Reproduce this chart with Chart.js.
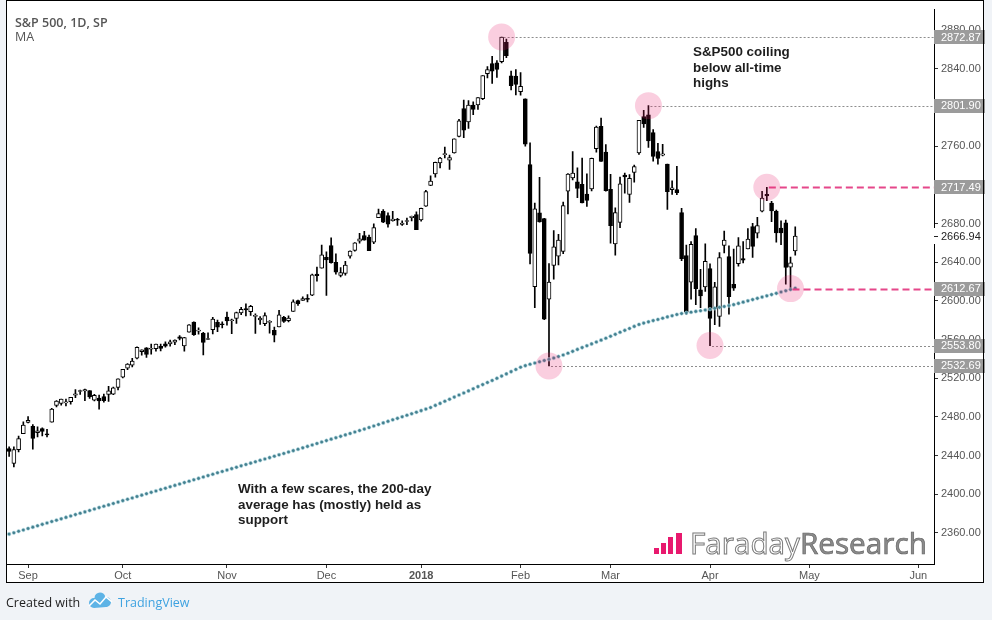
<!DOCTYPE html>
<html>
<head>
<meta charset="utf-8">
<script src="https://cdn.jsdelivr.net/npm/chart.js@4.4.1/dist/chart.umd.min.js"></script>
<style>
  html, body { margin: 0; padding: 0; background: #f0f3f7; }
  #wrap { width: 992px; height: 620px; }
</style>
</head>
<body>
<div id="wrap"><canvas id="chart" width="992" height="620"></canvas></div>
<script>
// trading days shown on the chart (S&P 500 daily)
const tradingDays = {
  '2017-08': [28,29,30,31],
  '2017-09': [1,5,6,7,8,11,12,13,14,15,18,19,20,21,22,25,26,27,28,29],
  '2017-10': [2,3,4,5,6,9,10,11,12,13,16,17,18,19,20,23,24,25,26,27,30,31],
  '2017-11': [1,2,3,6,7,8,9,10,13,14,15,16,17,20,21,22,24,27,28,29,30],
  '2017-12': [1,4,5,6,7,8,11,12,13,14,15,18,19,20,21,22,26,27,28,29],
  '2018-01': [2,3,4,5,8,9,10,11,12,16,17,18,19,22,23,24,25,26,29,30,31],
  '2018-02': [1,2,5,6,7,8,9,12,13,14,15,16,20,21,22,23,26,27,28],
  '2018-03': [1,2,5,6,7,8,9,12,13,14,15,16,19,20,21,22,23,26,27,28,29],
  '2018-04': [2,3,4,5,6,9,10,11,12,13,16,17,18,19,20,23,24,25,26]
};

const opens = [
  2447.35,2431.94,2446.06,2462.65,
  2474.42,2470.35,2463.83,2468.06,2462.25,2474.52,2491.94,2493.89,2494.56,2495.67,2502.51,2506.29,2506.84,2507.16,2497.26,2499.39,2501.04,2503.30,2503.41,2510.42,
  2521.20,2530.34,2533.48,2540.86,2547.44,2551.39,2549.99,2550.62,2552.88,2555.66,2555.57,2557.17,2562.87,2553.39,2567.56,2578.08,2568.66,2566.52,2560.08,2570.26,2577.75,2575.99,
  2583.21,2579.46,2581.93,2587.47,2592.11,2588.71,2584.00,2580.18,2576.53,2577.75,2569.45,2572.95,2582.94,2579.49,2589.17,2600.31,2600.42,2602.66,2605.94,2627.82,2633.93,
  2645.10,2657.19,2639.78,2626.24,2628.38,2646.21,2652.19,2661.73,2667.59,2665.87,2660.63,2685.92,2692.71,2688.18,2683.02,2684.22,2679.09,2682.10,2686.10,2689.15,
  2683.73,2697.85,2719.31,2731.33,2742.67,2751.15,2745.55,2752.97,2770.18,2798.96,2784.99,2802.40,2802.60,2809.16,2835.05,2845.42,2846.24,2847.48,2867.23,2832.74,2832.41,
  2816.45,2808.92,2741.06,2614.78,2690.95,2685.01,2601.78,2636.75,2646.27,2651.21,2713.46,2727.14,2722.99,2720.53,2710.42,2715.80,2757.37,2780.45,2753.78,
  2715.22,2658.89,2681.06,2730.18,2710.18,2732.75,2752.91,2790.54,2792.31,2774.06,2754.27,2750.57,2741.38,2715.05,2714.99,2691.36,2646.71,2619.35,2667.57,2611.30,2614.41,
  2633.45,2592.17,2584.04,2657.36,2645.82,2617.18,2638.41,2643.69,2653.83,2676.90,2670.10,2692.74,2710.11,2701.16,2692.56,2675.40,2680.80,2634.92,2651.65
];
const highs = [
  2449.12,2449.19,2460.31,2475.01,
  2480.38,2471.97,2469.64,2468.62,2467.11,2488.95,2496.77,2498.37,2498.43,2500.23,2508.32,2507.84,2508.85,2507.16,2503.47,2502.54,2503.51,2511.75,2510.81,2519.44,
  2529.23,2535.13,2540.53,2552.51,2549.41,2551.82,2555.23,2555.24,2555.33,2557.65,2559.47,2559.71,2564.11,2562.36,2575.44,2578.29,2572.18,2567.40,2567.07,2582.98,2580.03,2578.29,
  2588.40,2581.11,2588.42,2593.38,2597.02,2595.47,2586.50,2583.81,2587.66,2579.66,2572.84,2590.09,2583.96,2584.64,2601.19,2600.94,2604.21,2606.41,2627.69,2634.89,2657.74,
  2650.62,2665.19,2648.72,2634.41,2640.99,2651.65,2660.33,2669.72,2671.88,2668.09,2679.63,2694.97,2694.44,2691.01,2692.64,2685.35,2682.74,2685.64,2687.66,2692.12,
  2695.89,2714.37,2729.29,2743.45,2748.51,2759.14,2750.80,2767.56,2787.85,2807.54,2807.04,2805.83,2810.33,2833.03,2842.24,2852.97,2848.56,2872.87,2870.62,2837.75,2839.26,
  2835.96,2808.92,2763.39,2701.04,2727.67,2685.27,2638.67,2672.61,2668.84,2702.10,2731.51,2754.42,2737.60,2747.75,2731.26,2747.76,2780.64,2789.15,2761.52,
  2730.89,2696.25,2728.09,2732.08,2730.60,2740.45,2786.57,2796.98,2801.90,2777.11,2763.03,2761.85,2741.38,2724.22,2739.14,2695.68,2657.67,2661.36,2674.78,2632.65,2659.07,
  2638.30,2619.14,2649.86,2672.08,2656.88,2653.55,2665.45,2661.43,2674.72,2680.26,2686.49,2713.34,2717.49,2702.84,2693.94,2682.86,2683.55,2645.30,2676.48
];
const lows = [
  2439.03,2428.20,2443.77,2462.65,
  2473.85,2446.55,2459.20,2460.29,2459.40,2474.52,2490.37,2492.14,2491.35,2493.16,2499.92,2503.19,2496.67,2499.00,2496.54,2488.03,2495.12,2495.91,2502.93,2507.99,
  2520.40,2528.85,2531.80,2540.02,2543.79,2541.60,2544.86,2547.95,2548.31,2552.09,2553.24,2554.69,2559.67,2547.92,2567.56,2564.33,2565.58,2544.00,2559.80,2565.94,2568.25,2572.15,
  2574.92,2566.17,2576.77,2585.66,2584.35,2585.02,2566.33,2575.57,2574.48,2566.56,2557.45,2572.95,2577.62,2578.24,2589.17,2595.23,2600.42,2598.87,2605.44,2620.32,2633.93,
  2605.52,2639.03,2627.73,2624.75,2626.53,2644.10,2651.47,2659.78,2662.85,2652.01,2659.14,2685.92,2680.74,2676.11,2682.40,2678.13,2677.96,2678.91,2682.69,2673.61,
  2682.36,2697.77,2719.07,2727.92,2737.60,2747.86,2736.06,2752.78,2769.64,2768.64,2778.38,2792.56,2798.08,2808.12,2830.59,2824.81,2830.94,2846.18,2851.48,2818.27,2813.04,
  2812.70,2759.97,2638.17,2593.07,2681.33,2580.56,2532.69,2622.45,2637.08,2648.87,2689.82,2725.11,2706.76,2701.29,2697.77,2713.74,2753.78,2744.22,2713.54,
  2659.65,2647.32,2675.75,2711.26,2701.74,2722.65,2751.54,2779.26,2758.68,2744.38,2741.47,2749.97,2694.59,2710.05,2709.79,2641.59,2585.89,2601.81,2596.12,2593.06,2609.72,
  2553.80,2575.49,2573.61,2649.58,2586.27,2610.79,2635.78,2639.25,2653.83,2645.05,2665.16,2692.05,2703.63,2681.90,2660.61,2657.99,2617.32,2612.67,2647.16
];
const closes = [
  2444.24,2446.30,2457.59,2471.65,
  2476.55,2457.85,2465.54,2465.10,2461.43,2488.11,2496.48,2498.37,2495.62,2500.23,2503.87,2506.65,2508.24,2500.60,2502.22,2496.66,2496.84,2507.04,2510.06,2519.36,
  2529.12,2534.58,2537.74,2552.07,2549.33,2544.73,2550.64,2555.24,2550.93,2553.17,2557.64,2559.36,2561.26,2562.10,2575.21,2564.98,2569.13,2557.15,2560.40,2581.07,2572.83,2575.26,
  2579.36,2579.85,2587.84,2591.13,2590.64,2594.38,2584.62,2582.30,2584.84,2578.87,2564.62,2585.64,2578.85,2582.14,2599.03,2597.08,2602.42,2601.42,2627.04,2626.07,2647.58,
  2642.22,2639.44,2629.57,2629.27,2636.98,2651.50,2659.99,2664.11,2662.85,2652.01,2675.81,2690.16,2681.47,2679.25,2684.57,2683.34,2680.50,2682.62,2687.54,2673.61,
  2695.81,2713.06,2723.99,2743.15,2747.71,2751.29,2748.23,2767.56,2786.24,2776.42,2802.56,2798.03,2810.30,2832.97,2839.13,2837.54,2839.25,2872.87,2853.53,2822.43,2823.81,
  2821.98,2762.13,2648.94,2695.14,2681.66,2581.00,2619.55,2656.00,2662.94,2698.63,2731.20,2732.22,2716.26,2701.33,2703.96,2747.30,2779.60,2744.28,2713.83,
  2677.67,2691.25,2720.94,2728.12,2726.80,2738.97,2786.57,2783.02,2765.31,2749.48,2747.33,2752.01,2712.92,2716.94,2711.93,2643.69,2588.26,2658.55,2612.62,2605.00,2640.87,
  2581.88,2614.45,2644.69,2662.84,2604.47,2613.16,2656.87,2642.19,2663.99,2656.30,2677.84,2706.39,2708.64,2693.13,2670.14,2670.29,2634.56,2639.40,2666.94
];
// 200-day moving average
const ma200 = [
  2358.8,2360.2,2361.7,2363.1,
  2364.6,2366.0,2367.4,2368.9,2370.3,2371.8,2373.2,2374.6,2376.1,2377.5,2379.0,2380.4,2381.8,2383.3,2384.7,2386.2,2387.6,2389.0,2390.5,2391.9,
  2393.4,2394.8,2396.2,2397.7,2399.1,2400.6,2402.0,2403.4,2404.9,2406.3,2407.8,2409.2,2410.6,2412.1,2413.5,2415.0,2416.4,2417.8,2419.3,2420.7,2422.2,2423.6,
  2425.0,2426.5,2427.9,2429.4,2430.8,2432.2,2433.6,2435.1,2436.5,2437.9,2439.4,2440.8,2442.2,2443.7,2445.1,2446.5,2448.0,2449.5,2451.0,2452.5,2454.0,
  2455.5,2457.0,2458.5,2459.9,2461.4,2462.9,2464.4,2465.9,2467.4,2469.0,2470.6,2472.2,2473.8,2475.4,2477.0,2478.5,2480.1,2481.7,2483.3,2484.9,
  2486.5,2488.1,2489.7,2491.9,2494.0,2496.2,2498.3,2500.5,2502.6,2504.8,2506.9,2509.1,2511.3,2513.4,2515.6,2517.7,2519.9,2522.2,2524.5,2526.8,2529.1,
  2531.4,2533.0,2534.4,2535.7,2537.0,2538.3,2539.6,2540.9,2542.4,2544.0,2545.9,2547.8,2549.8,2551.7,2553.6,2555.5,2557.4,2559.4,2561.4,
  2563.4,2565.4,2567.5,2569.5,2571.5,2573.6,2575.6,2577.0,2578.3,2579.6,2580.8,2582.1,2583.4,2584.6,2585.9,2586.9,2587.6,2588.3,2589.1,2589.8,2590.5,
  2591.4,2592.3,2593.3,2594.2,2595.1,2596.1,2597.4,2598.7,2600.0,2601.3,2602.6,2603.9,2605.2,2606.5,2607.8,2609.2,2610.5,2611.8,2613.1
];

// axis ticks (x positions are trading-day indexes, future days included)
const monthTickIdx = [4, 24, 46, 67, 87, 108, 127, 148, 169, 192];
const monthTickLabels = ['Sep', 'Oct', 'Nov', 'Dec', '2018', 'Feb', 'Mar', 'Apr', 'May', 'Jun'];
const yTicks = [2360, 2400, 2440, 2480, 2520, 2560, 2600, 2640, 2680, 2720, 2760, 2800, 2840, 2880];

// marked levels: value, bar index where it starts, kind
const levelValues = [2872.87, 2801.90, 2717.49, 2612.67, 2553.80, 2532.69];
const levelStartIdx = [104, 135, 160, 165, 148, 114];
const levelKinds = ['dot', 'dot', 'pink', 'pink', 'dot', 'dot'];
const lastPrice = 2666.94;

const dates = [];
Object.keys(tradingDays).forEach(function(m){
  tradingDays[m].forEach(function(d){ dates.push(m + '-' + String(d).padStart(2, '0')); });
});

const FONT = "'Liberation Sans', Arial, sans-serif";

let wickData = dates.map(function(d, i){ return {x: i, y: [lows[i], highs[i]]}; });
let bodyData = dates.map(function(d, i){ return {x: i, y: [opens[i], closes[i]]}; });
let maData = dates.map(function(d, i){ return {x: i, y: ma200[i]}; });

// BEGIN overlay plugin
const overlay = {
  id: 'overlay',
  beforeDraw: function(chart){
    let ctx = chart.ctx;
    ctx.save();
    ctx.fillStyle = '#f0f3f7';
    ctx.fillRect(0, 0, chart.width, chart.height);
    ctx.fillStyle = '#ffffff';
    ctx.fillRect(6, 0, 978, 583);
    ctx.restore();
  },
  afterDatasetsDraw: function(chart){
    let ctx = chart.ctx, xs = chart.scales.x, ys = chart.scales.y, area = chart.chartArea;
    ctx.save();
    ctx.beginPath();
    ctx.rect(area.left, 0, area.right - area.left, area.bottom);
    ctx.clip();
    levelValues.forEach(function(v, k){
      let y = Math.round(ys.getPixelForValue(v)) + 0.5;
      let x0 = xs.getPixelForValue(levelStartIdx[k]) + 2;
      ctx.beginPath();
      if (levelKinds[k] == 'pink') {
        ctx.strokeStyle = '#e5478a';
        ctx.lineWidth = 2;
        ctx.setLineDash([7, 4]);
      } else {
        ctx.strokeStyle = '#8d8d8d';
        ctx.lineWidth = 1;
        ctx.setLineDash([2, 2]);
      }
      ctx.moveTo(x0, y);
      ctx.lineTo(area.right, y);
      ctx.stroke();
    });
    ctx.setLineDash([]);
    // pink highlight circles
    levelValues.forEach(function(v, k){
      let x = xs.getPixelForValue(levelStartIdx[k]);
      let y = ys.getPixelForValue(v);
      ctx.beginPath();
      ctx.arc(x, y, 13.5, 0, Math.PI * 2);
      ctx.fillStyle = 'rgba(233, 30, 110, 0.22)';
      ctx.fill();
    });
    ctx.restore();
  },
  afterDraw: function(chart){
    let ctx = chart.ctx, ys = chart.scales.y, area = chart.chartArea;
    ctx.save();

    // level labels on the price axis
    ctx.font = '11px ' + FONT;
    ctx.textBaseline = 'middle';
    levelValues.forEach(function(v){
      let y = ys.getPixelForValue(v);
      ctx.fillStyle = '#9b9b9b';
      ctx.fillRect(area.right, Math.round(y) - 7, 51, 14);
      ctx.fillStyle = '#ffffff';
      ctx.fillText(v.toFixed(2), area.right + 7, y + 0.5);
    });
    // last price
    let yl = ys.getPixelForValue(lastPrice);
    ctx.fillStyle = '#ffffff';
    ctx.fillRect(area.right - 0.5, Math.round(yl) - 8, 50, 16);
    ctx.fillStyle = '#222';
    ctx.fillRect(area.right, Math.round(yl), 4, 1);
    ctx.fillText(lastPrice.toFixed(2), area.right + 7, yl + 0.5);

    // title
    ctx.textBaseline = 'alphabetic';
    ctx.fillStyle = '#555';
    ctx.font = "600 12.5px 'Open Sans', sans-serif";
    ctx.fillText('S&P 500, 1D, SP', 15, 27);
    ctx.font = "12.5px 'Open Sans', sans-serif";
    ctx.fillText('MA', 15, 41);

    // notes
    ctx.fillStyle = '#1e1e1e';
    ctx.font = 'bold 13.4px ' + FONT;
    ['S&P500 coiling', 'below all-time', 'highs'].forEach(function(t, i){
      ctx.fillText(t, 693, 56 + i * 15.7);
    });
    ['With a few scares, the 200-day', 'average has (mostly) held as', 'support'].forEach(function(t, i){
      ctx.fillText(t, 238, 493 + i * 15.7);
    });

    // Faraday Research logo
    ctx.fillStyle = '#e8196e';
    [[654, 6], [661, 11], [668, 17], [676, 21]].forEach(function(b, i){
      ctx.fillRect(b[0], 554 - b[1], i == 3 ? 6 : 5, b[1]);
    });
    ctx.font = "30px 'Open Sans', sans-serif";
    let fullW = ctx.measureText('FaradayResearch').width;
    let fs = 30 * 237 / fullW;
    ctx.font = fs + "px 'Open Sans', sans-serif";
    let fw = ctx.measureText('Faraday').width;
    ctx.lineWidth = 1;
    ctx.fillStyle = '#ffffff';
    ctx.strokeStyle = '#7a7a7a';
    ctx.fillText('Faraday', 690, 554);
    ctx.strokeText('Faraday', 690, 554);
    ctx.fillStyle = '#8c8c8c';
    ctx.strokeStyle = '#666';
    ctx.lineWidth = 0.7;
    ctx.fillText('Research', 690 + fw, 554);
    ctx.strokeText('Research', 690 + fw, 554);

    // panel border
    ctx.strokeStyle = '#000';
    ctx.lineWidth = 1;
    ctx.strokeRect(6.5, 0.5, 977, 582);

    // footer
    ctx.fillStyle = '#1e1e1e';
    ctx.font = "12.5px 'Open Sans', sans-serif";
    ctx.fillText('Created with', 6, 607);
    // cloud logo
    ctx.fillStyle = '#5db3e6';
    ctx.beginPath();
    ctx.arc(94, 603, 5, Math.PI * 0.5, Math.PI * 1.5);
    ctx.arc(100, 598, 5.5, Math.PI, Math.PI * 1.9);
    ctx.arc(106, 602, 5, Math.PI * 1.4, Math.PI * 0.5);
    ctx.closePath();
    ctx.fill();
    ctx.strokeStyle = '#ffffff';
    ctx.lineWidth = 1.6;
    ctx.beginPath();
    ctx.moveTo(89, 606);
    ctx.lineTo(95, 600);
    ctx.lineTo(100, 604);
    ctx.lineTo(106, 597);
    ctx.lineTo(112, 602);
    ctx.stroke();
    ctx.fillStyle = '#3ea2e0';
    ctx.fillText('TradingView', 118, 607);
    ctx.restore();
  }
};
// END overlay plugin

new Chart(document.getElementById('chart'), {
  type: 'bar',
  data: {
    datasets: [
      {
        type: 'line',
        data: maData,
        showLine: false,
        pointRadius: 1.8,
        pointBackgroundColor: '#44808f',
        pointBorderColor: 'rgba(185, 222, 232, 0.7)',
        pointBorderWidth: 0.8,
        order: 0
      },
      {
        data: bodyData,
        grouped: false,
        barThickness: 4,
        minBarLength: 1,
        borderWidth: 1,
        borderSkipped: false,
        borderColor: '#000',
        backgroundColor: function(c){
          let r = c.raw;
          return (r && r.y[1] >= r.y[0]) ? '#ffffff' : '#000000';
        },
        order: 1
      },
      {
        data: wickData,
        grouped: false,
        barThickness: 1,
        backgroundColor: '#000',
        borderWidth: 0,
        order: 2
      }
    ]
  },
  options: {
    responsive: false,
    animation: false,
    events: [],
    layout: { padding: { left: 7, top: 1, right: 8, bottom: 37 } },
    plugins: { legend: { display: false }, tooltip: { enabled: false } },
    scales: {
      x: {
        type: 'linear',
        min: -0.45,
        max: 195.3,
        offset: false,
        grid: { offset: false, drawOnChartArea: false, drawTicks: true, tickLength: 4, color: '#333' },
        border: { display: true, color: '#000' },
        afterBuildTicks: function(s){ s.ticks = monthTickIdx.map(function(v){ return {value: v}; }); },
        afterFit: function(s){ s.height = 19; },
        ticks: {
          autoSkip: false,
          maxRotation: 0,
          padding: 1,
          color: '#555',
          font: function(c){
            let bold = c.tick && c.tick.value == 87;
            return { family: FONT, size: 11, weight: bold ? 'bold' : 'normal' };
          },
          callback: function(v){
            let k = monthTickIdx.indexOf(v);
            return k >= 0 ? monthTickLabels[k] : '';
          }
        }
      },
      y: {
        type: 'linear',
        position: 'right',
        min: 2327.9,
        max: 2901.2,
        grid: { drawOnChartArea: false, tickLength: 4, color: '#333' },
        border: { display: true, color: '#000' },
        afterBuildTicks: function(s){ s.ticks = yTicks.map(function(v){ return {value: v}; }); },
        afterFit: function(s){ s.width = 50; },
        ticks: {
          padding: 3,
          color: '#555',
          font: { family: FONT, size: 11 },
          callback: function(v){ return Number(v).toFixed(2); }
        }
      }
    }
  },
  plugins: [overlay]
});
</script>
</body>
</html>
